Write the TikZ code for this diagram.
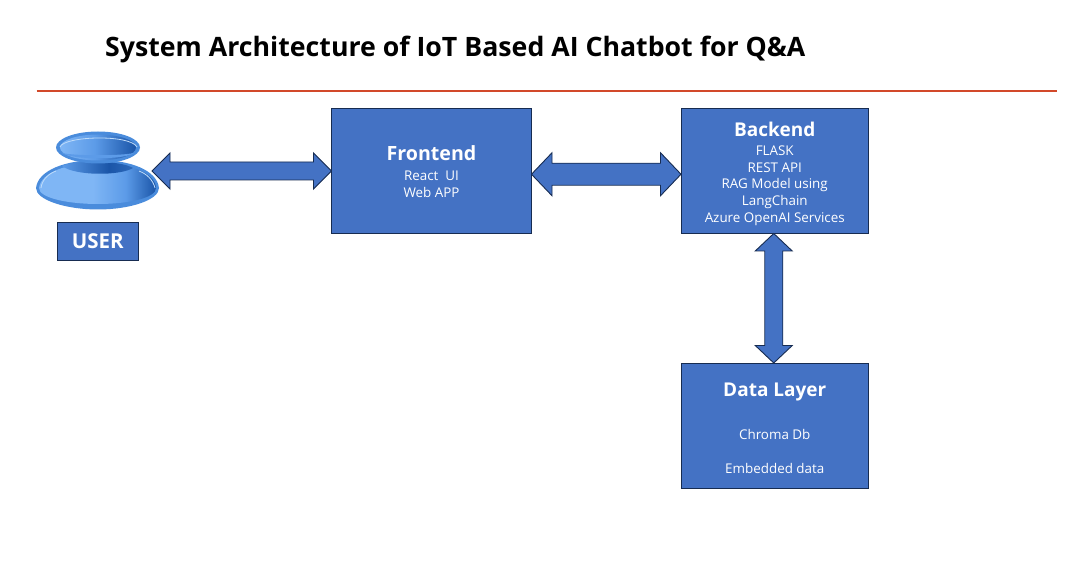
\documentclass[tikz,border=0pt]{standalone}
\usepackage{fontspec}
\setmainfont{Open Sans}
\usetikzlibrary{calc}
\definecolor{boxblue}{HTML}{4472C4}
\definecolor{boxline}{HTML}{172C51}
\definecolor{rulered}{HTML}{D2492A}
\definecolor{iconlight}{HTML}{7FB6F5}
\definecolor{iconmid}{HTML}{5C9BE8}
\definecolor{icondark}{HTML}{1A55A8}
\definecolor{iconedge}{HTML}{4A8CDC}
\definecolor{iconhigh}{HTML}{BFDCFA}
\pgfdeclarehorizontalshading{bodyshade}{100bp}{color(0bp)=(iconlight); color(48bp)=(iconlight); color(62bp)=(iconmid); color(75bp)=(icondark); color(100bp)=(icondark)}
\pgfdeclarehorizontalshading{neckshade}{100bp}{color(0bp)=(iconmid); color(25bp)=(iconmid); color(58bp)=(icondark); color(75bp)=(icondark!70!iconmid); color(100bp)=(icondark!70!iconmid)}
\pgfdeclarehorizontalshading{headshade}{100bp}{color(0bp)=(iconlight); color(25bp)=(iconlight); color(48bp)=(iconmid); color(75bp)=(icondark); color(100bp)=(icondark)}
\newcommand{\hdoublearrow}[5]{%
  \draw[arrowshape] let \p1=(#1), \p2=(#2) in
    (\x1,\y1) -- (\x1+#5pt,\y1+#3pt) -- (\x1+#5pt,\y1+#4pt) -- (\x2-#5pt,\y1+#4pt) -- (\x2-#5pt,\y1+#3pt) -- (\x2,\y1)
    -- (\x2-#5pt,\y1-#3pt) -- (\x2-#5pt,\y1-#4pt) -- (\x1+#5pt,\y1-#4pt) -- (\x1+#5pt,\y1-#3pt) -- cycle;}
\newcommand{\vdoublearrow}[5]{%
  \draw[arrowshape] let \p1=(#1), \p2=(#2) in
    (\x1,\y1) -- (\x1+#3pt,\y1-#5pt) -- (\x1+#4pt,\y1-#5pt) -- (\x1+#4pt,\y2+#5pt) -- (\x1+#3pt,\y2+#5pt) -- (\x1,\y2)
    -- (\x1-#3pt,\y2+#5pt) -- (\x1-#4pt,\y2+#5pt) -- (\x1-#4pt,\y1-#5pt) -- (\x1-#3pt,\y1-#5pt) -- cycle;}
\tikzset{
  bluebox/.style={draw=boxline,line width=0.9pt,fill=boxblue,text=white,align=center,inner sep=0pt,outer sep=0pt,anchor=north west,font=\fontsize{13.4}{16.7}\selectfont},
  arrowshape/.style={draw=boxline,line width=0.9pt,fill=boxblue,line join=miter},
}
\newcommand{\boxhead}[2][19]{{\fontsize{#1}{24}\selectfont\bfseries #2}}
\begin{document}
\begin{tikzpicture}[x=1pt,y=-1pt]
\useasboundingbox (0,0) rectangle (1072,577);
\fill[white] (0,0) rectangle (1072,577);
\node[anchor=base west,inner sep=0pt,font=\fontsize{26.7}{30}\selectfont\bfseries] (title) at (105,57) {System Architecture of IoT Based AI Chatbot for Q\&A};
\coordinate (ruleL) at (36.5,91);
\coordinate (ruleR) at (1057,91);
\draw[rulered,line width=1.2pt] (ruleL) -- (ruleR);
% user icon body
\path[fill=iconedge] (36,188) .. controls (38,170) and (66,160) .. (98,160) .. controls (130,160) and (157,170) .. (159,188)
   .. controls (159,200) and (130,209.5) .. (98,209.5) .. controls (66,209.5) and (36,200) .. (36,188) -- cycle;
\shade[shading=bodyshade]
   (39,188) .. controls (41,172) and (68,163) .. (98,163) .. controls (128,163) and (155,172) .. (156,188)
   .. controls (156,198) and (128,204) .. (98,204) .. controls (68,204) and (39,198) .. (39,188) -- cycle;
\shade[shading=neckshade]
   (62,166) .. controls (75,160) and (120,160) .. (133,168) .. controls (120,176) and (75,176) .. (62,166) -- cycle;
\draw[iconhigh,line width=0.8pt] (41,188) .. controls (42,180) and (48,174) .. (56,171);
\draw[iconhigh,line width=0.8pt] (139,171) .. controls (147,174) and (153,180) .. (155,188);
% user icon head
\fill[iconedge] (98,147.5) ellipse [x radius=42,y radius=16];
\shade[shading=headshade] (98,147.5) ellipse [x radius=38,y radius=13];
\fill[iconmid] (62,153) .. controls (75,156) and (120,156) .. (134,153) .. controls (125,160) and (72,160) .. (62,153) -- cycle;
\draw[iconhigh,line width=0.8pt] (60,147) .. controls (64,136) and (130,134) .. (137,147);
% boxes
\node[bluebox,minimum width=81.5pt,minimum height=38.5pt] (user) at (57,222) {\fontsize{20.5}{24}\selectfont\bfseries USER};
\node[bluebox,minimum width=200pt,minimum height=125.5pt] (front) at (331.5,108) {\rule{0pt}{16.5pt}\boxhead[19.6]{Frontend}\\[3.5pt]React~~UI\\Web APP};
\node[bluebox,minimum width=187.5pt,minimum height=125.5pt] (back) at (681,108) {\rule{0pt}{20.5pt}\boxhead{Backend}\\[2.5pt]FLASK\\REST API\\RAG Model using\\LangChain\\Azure OpenAI Services};
\node[bluebox,minimum width=187.5pt,minimum height=125.5pt] (data) at (681,363) {\rule{0pt}{18.5pt}\boxhead{Data Layer}\\[27pt]Chroma Db\\[17.3pt]Embedded data};
% connectors
\coordinate (userR) at (152,171);
\hdoublearrow{userR}{front.west}{18}{9}{18}
\coordinate (frontR) at ($(front.east)+(0,3.5)$);
\coordinate (backL) at ($(back.west)+(0,3.5)$);
\hdoublearrow{frontR}{backL}{21.5}{11}{20.5}
\coordinate (backB) at ($(back.south)+(-1,0)$);
\coordinate (dataT) at ($(data.north)+(-1,0)$);
\vdoublearrow{backB}{dataT}{18.5}{9}{17.5}
\end{tikzpicture}
\end{document}
